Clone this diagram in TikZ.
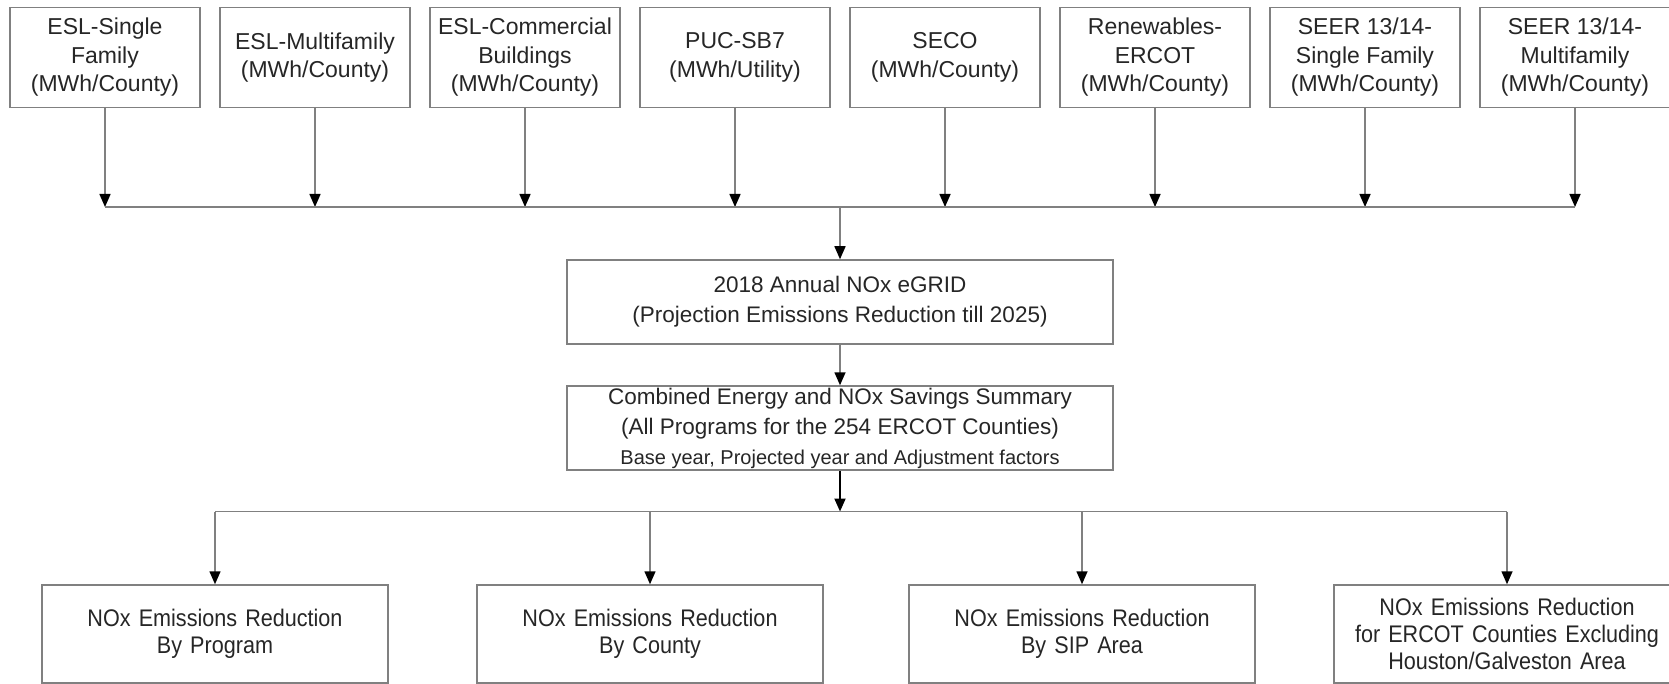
\documentclass[tikz,border=0pt]{standalone}
\usepackage{fontspec}
\setmainfont{Liberation Sans}
\newfontfamily\narrowfont[FakeStretch=0.9,WordSpace=1.35]{Liberation Sans}
\usetikzlibrary{arrows.meta}
\definecolor{linegray}{HTML}{808080}
\definecolor{txt}{HTML}{262626}
\begin{document}
\begin{tikzpicture}[x=1pt,y=-1pt,
  box/.style={draw=linegray,line width=1.5pt,align=center,text=txt,inner sep=0pt,font=\fontsize{23}{28.5}\selectfont},
  tbox/.style={box,minimum width=190pt,minimum height=100pt},
  mbox/.style={box,minimum width=546pt,minimum height=84pt,font=\fontsize{22.5}{30}\selectfont},
  obox/.style={box,minimum width=346pt,minimum height=98pt,font=\narrowfont\fontsize{24}{27}\selectfont},
  conn/.style={draw=linegray,line width=1.5pt},
  arr/.style={conn,-{Triangle[width=11pt,length=13pt,color=black]}},
  arrk/.style={draw=black,line width=2pt,-{Triangle[width=11pt,length=13pt,color=black]}},
  ]
\useasboundingbox (0,0) rectangle (1669,684);
\fill[white] (0,0) rectangle (1669,684);
% top row
\node[tbox] (t1) at (105,57.5) {ESL-Single\\Family\\(MWh/County)};
\node[tbox] (t2) at (315,57.5) {ESL-Multifamily\\(MWh/County)};
\node[tbox] (t3) at (525,57.5) {ESL-Commercial\\Buildings\\(MWh/County)};
\node[tbox] (t4) at (735,57.5) {PUC-SB7\\(MWh/Utility)};
\node[tbox] (t5) at (945,57.5) {SECO\\(MWh/County)};
\node[tbox] (t6) at (1155,57.5) {Renewables-\\ERCOT\\(MWh/County)};
\node[tbox] (t7) at (1365,57.5) {SEER 13/14-\\Single Family\\(MWh/County)};
\node[tbox] (t8) at (1575,57.5) {SEER 13/14-\\Multifamily\\(MWh/County)};
% middle
\node[mbox] (eg) at (840,302) {2018 Annual NOx eGRID\\(Projection Emissions Reduction till 2025)};
\node[mbox] (cb) at (840,428) {Combined Energy and NOx Savings Summary\\(All Programs for the 254 ERCOT Counties)\\{\fontsize{20}{27}\selectfont Base year, Projected year and Adjustment factors}};
% bottom
\node[obox] (o1) at (215,634) {NOx Emissions Reduction\\By Program};
\node[obox] (o2) at (650,634) {NOx Emissions Reduction\\By County};
\node[obox] (o3) at (1082,634) {NOx Emissions Reduction\\By SIP Area};
\node[obox] (o4) at (1507,634) {NOx Emissions Reduction\\for ERCOT Counties Excluding\\Houston/Galveston Area};
% bus coordinates
\coordinate (ub) at (0,207);
\coordinate (lb) at (0,511.5);
% top connectors
\foreach \i in {1,...,8} {
  \draw[arr] (t\i.south) -- (t\i.south |- ub);
}
\draw[conn] (t1.south |- ub) -- (t8.south |- ub);
\draw[arr] (eg.north |- ub) -- (eg.north);
\draw[arr] (eg.south) -- (cb.north);
\draw[arrk] (cb.south) -- (cb.south |- lb);
\draw[conn] (o1.north |- lb) -- (o4.north |- lb);
\foreach \i in {1,...,4} {
  \draw[arr] (o\i.north |- lb) -- (o\i.north);
}
\end{tikzpicture}
\end{document}
